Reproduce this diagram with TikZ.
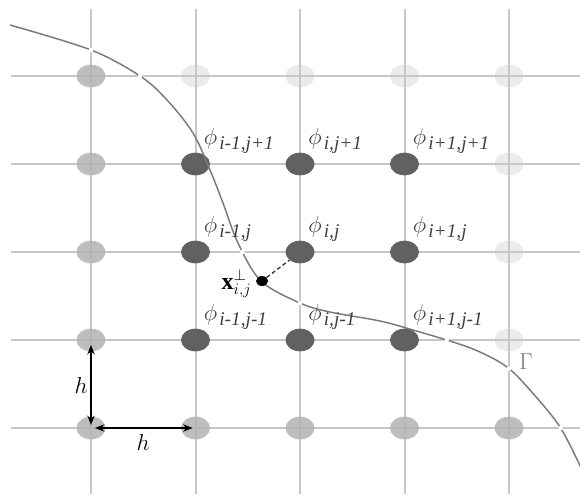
\documentclass[tikz,border=0pt]{standalone}
\usepackage{fontspec}
\setmainfont{Liberation Serif}
\usetikzlibrary{arrows.meta,shapes.geometric,intersections}
\newcommand\phlab[1]{{\fontsize{19}{19}\selectfont$\phi$}\,\raisebox{-3.8pt}{\fontsize{14.5}{14.5}\selectfont\textit{#1}}}
\begin{document}
\begin{tikzpicture}[x=0.75pt,y=-0.75pt,
  gridline/.style={draw=black!22, line width=2pt},
  ptbase/.style={ellipse, inner sep=0pt, minimum width=21.75pt, minimum height=17pt},
  ptlight/.style={ptbase, fill=black!8},
  ptmed/.style={ptbase, fill=black!30, fill opacity=0.85},
  ptdark/.style={ptbase, fill=black!62},
  philabel/.style={anchor=base west, inner sep=0pt, text=black!75},
  curveline/.style={draw=black!52, line width=1.1pt},
  harrow/.style={{Stealth[length=7pt,width=5.5pt]}-{Stealth[length=7pt,width=5.5pt]}, line width=1.2pt, black},
  hlabel/.style={font=\fontsize{16}{16}\selectfont, inner sep=0pt}
]
\useasboundingbox (0,0) rectangle (580,494);
% light (outside) points under the grid
\foreach \c/\r in {1/0,2/0,3/0,4/0,4/1,4/2,4/3}
  \node[ptlight] (p\c\r) at (91+\c*104.5, 76+\r*88) {};
% grid
\foreach \x [count=\n] in {91,196,300,405,509}
  \draw[gridline, name path global=v\n] (\x,9) -- (\x,494);
\foreach \y [count=\n] in {76,164,252,340,428}
  \draw[gridline, name path global=g\n] (11,\y) -- (580,\y);
% medium (inside) points
\foreach \c/\r in {0/0,0/1,0/2,0/3,0/4,1/4,2/4,3/4,4/4}
  \node[ptmed] (p\c\r) at (91+\c*104.5, 76+\r*88) {};
% dark (band) points
\foreach \c/\r in {1/1,2/1,3/1,1/2,2/2,3/2,1/3,2/3,3/3}
  \node[ptdark] (p\c\r) at (91+\c*104.5, 76+\r*88) {};
% interface
\draw[curveline, name path global=gam] plot[smooth, tension=0.55] coordinates {(10,25) (91,50) (140,76) (167,100) (193,133) (210,170) (223,203) (238,243) (261,281) (300,303) (330,312) (380,321) (413,330) (453,342) (480,352) (507,367) (530,390) (560,427) (582,470)};
% small white breaks where the interface crosses grid lines (not over dots)
\foreach \gl in {v1,v3,v5,g1,g3,g4,g5}
  \fill[white, name intersections={of=gam and \gl}] (intersection-1) circle (1.7pt);
% closest point
\node[ellipse, fill=black, inner sep=0pt, minimum width=9pt, minimum height=7.5pt] (xp) at (262,281) {};
\draw[black!80, line width=1pt, dash pattern=on 3pt off 2pt] (xp) -- (p22);
\node[anchor=east, inner sep=0pt, font=\fontsize{18}{18}\selectfont] (xlab) at ([xshift=-3pt,yshift=-2pt]xp.west) {$\mathbf{x}^{\perp}_{i,j}$};
% labels
\node[philabel] (l11) at ([xshift=6pt,yshift=15pt]p11.center) {\phlab{i-1,j+1}};
\node[philabel] (l21) at ([xshift=6pt,yshift=15pt]p21.center) {\phlab{i,j+1}};
\node[philabel] (l31) at ([xshift=6pt,yshift=15pt]p31.center) {\phlab{i+1,j+1}};
\node[philabel] (l12) at ([xshift=6pt,yshift=15pt]p12.center) {\phlab{i-1,j}};
\node[philabel] (l22) at ([xshift=6pt,yshift=15pt]p22.center) {\phlab{i,j}};
\node[philabel] (l32) at ([xshift=6pt,yshift=15pt]p32.center) {\phlab{i+1,j}};
\node[philabel] (l13) at ([xshift=6pt,yshift=15pt]p13.center) {\phlab{i-1,j-1}};
\node[philabel] (l23) at ([xshift=6pt,yshift=15pt]p23.center) {\phlab{i,j-1}};
\node[philabel] (l33) at ([xshift=6pt,yshift=15pt]p33.center) {\phlab{i+1,j-1}};
% spacing arrows
\draw[harrow] ([yshift=-3.75pt]p03.center) -- ([yshift=2.25pt]p04.center);
\draw[harrow] ([xshift=3pt]p04.center) -- ([xshift=-2.25pt]p14.center);
\node[hlabel] (hv) at (81,385) {$h$};
\node[hlabel] (hh) at (143,442) {$h$};
\node[inner sep=0pt, text=black!55, font=\fontsize{18}{18}\selectfont] (gamlab) at (526,362) {$\Gamma$};
\end{tikzpicture}
\end{document}
